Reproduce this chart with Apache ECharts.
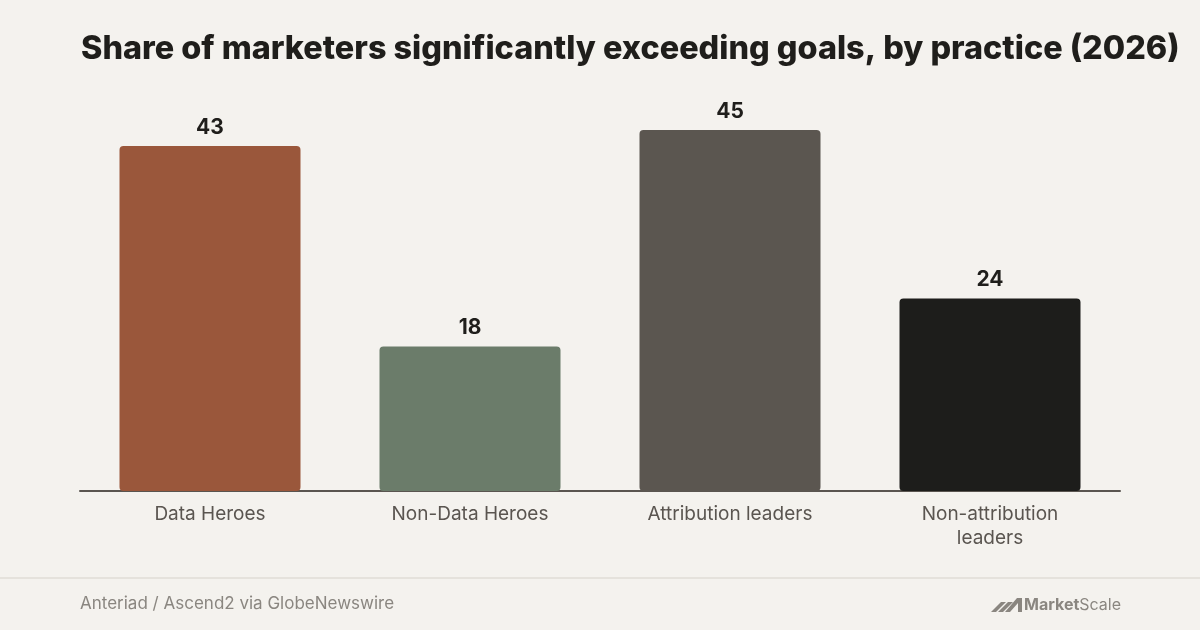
<!DOCTYPE html>
<html>
<head>
<meta charset="utf-8">
<script src="https://cdn.jsdelivr.net/npm/echarts@6/dist/echarts.min.js"></script>
<style>
  html, body { margin: 0; padding: 0; background: #f4f2ee; }
  #chart { width: 1200px; height: 630px; }
</style>
</head>
<body>
<div id="chart"></div>
<script>
const categories = ["Data Heroes", "Non-Data Heroes", "Attribution leaders", "Non-attribution\nleaders"];
const values = [43, 18, 45, 24];
const barColors = ["#9a573b", "#6b7c6a", "#5b5650", "#1d1d1b"];

const chart = echarts.init(document.getElementById("chart"));

const option = {
  backgroundColor: "#f4f2ee",
  animation: false,
  title: {
    text: "Share of marketers significantly exceeding goals, by practice (2026)",
    left: 76,
    top: 28,
    textStyle: {
      fontFamily: "Inter",
      fontWeight: 800,
      fontSize: 32.4,
      color: "#1f1e1b",
    },
  },
  grid: {
    left: 80,
    right: 80,
    top: 130,
    bottom: 139,
  },
  xAxis: {
    type: "category",
    data: categories,
    axisLine: { lineStyle: { color: "#5a5550", width: 2 } },
    axisTick: { show: false },
    axisLabel: {
      margin: 11,
      fontFamily: "Inter",
      fontSize: 19,
      lineHeight: 24,
      color: "#5a5550",
    },
  },
  yAxis: {
    type: "value",
    min: 0,
    max: 45,
    show: false,
    splitLine: { show: false },
  },
  series: [
    {
      type: "bar",
      barWidth: 181,
      data: values.map((v, i) => ({
        value: v,
        itemStyle: { color: barColors[i], borderRadius: 4 },
      })),
      label: {
        show: true,
        position: "top",
        distance: 8,
        fontFamily: "Inter",
        fontWeight: 700,
        fontSize: 21,
        color: "#1f1e1b",
      },
    },
  ],
  graphic: [
    {
      type: "rect",
      shape: { x: 0, y: 577, width: 1200, height: 2 },
      style: { fill: "#e5e2dc" },
    },
    {
      type: "text",
      left: 80,
      top: 595,
      style: {
        text: "Anteriad / Ascend2 via GlobeNewswire",
        font: "17px Inter",
        fill: "#8a8680",
      },
    },
    {
      type: "group",
      left: 991,
      top: 597,
      children: [
        { type: "polygon", shape: { points: [[0, 14], [5, 14], [15, 4], [10, 4]] }, style: { fill: "#8a8680" } },
        { type: "polygon", shape: { points: [[7, 14], [12, 14], [22, 4], [17, 4]] }, style: { fill: "#8a8680" } },
        { type: "polygon", shape: { points: [[14, 14], [19, 14], [27, 5], [27, 14], [31, 14], [31, 0], [26, 0]] }, style: { fill: "#8a8680" } },
        {
          type: "text",
          x: 33,
          y: -1,
          style: {
            text: "{b|Market}{r|Scale}",
            rich: {
              b: { font: "700 16px Inter", fill: "#8a8680" },
              r: { font: "400 16px Inter", fill: "#8a8680" },
            },
          },
        },
      ],
    },
  ],
};

chart.setOption(option);
</script>
</body>
</html>
